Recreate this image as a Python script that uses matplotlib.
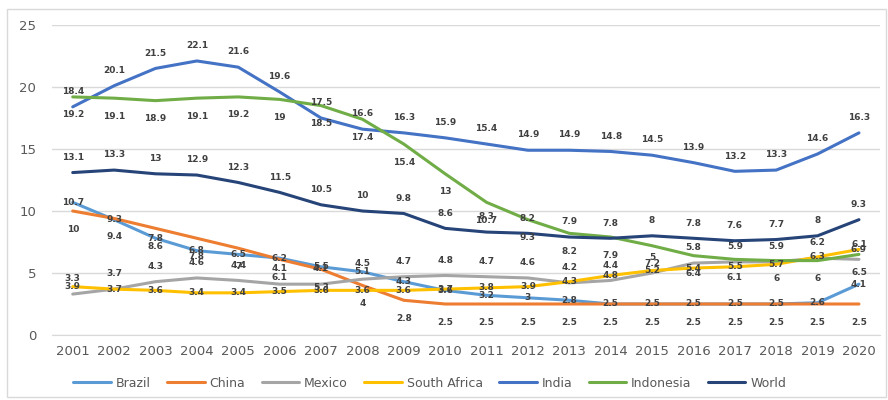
import matplotlib
matplotlib.use("Agg")
import matplotlib.pyplot as plt
from matplotlib.patches import Rectangle

years = [str(y) for y in range(2001, 2021)]

brazil = [10.7, 9.3, 7.8, 6.8, 6.5, 6.2, 5.5, 5.1, 4.3, 3.6, 3.2, 3.0, 2.8, 2.5, 2.5, 2.5, 2.5, 2.5, 2.6, 4.1]
china = [10, 9.4, 8.6, 7.8, 7.0, 6.1, 5.3, 4.0, 2.8, 2.5, 2.5, 2.5, 2.5, 2.5, 2.5, 2.5, 2.5, 2.5, 2.5, 2.5]
mexico = [3.3, 3.7, 4.3, 4.6, 4.4, 4.1, 4.1, 4.5, 4.7, 4.8, 4.7, 4.6, 4.2, 4.4, 5.0, 5.8, 5.9, 5.9, 6.2, 6.1]
south_africa = [3.9, 3.7, 3.6, 3.4, 3.4, 3.5, 3.6, 3.6, 3.6, 3.7, 3.8, 3.9, 4.3, 4.8, 5.2, 5.4, 5.5, 5.7, 6.3, 6.9]
india = [18.4, 20.1, 21.5, 22.1, 21.6, 19.6, 17.5, 16.6, 16.3, 15.9, 15.4, 14.9, 14.9, 14.8, 14.5, 13.9, 13.2, 13.3, 14.6, 16.3]
indonesia = [19.2, 19.1, 18.9, 19.1, 19.2, 19.0, 18.5, 17.4, 15.4, 13.0, 10.7, 9.3, 8.2, 7.9, 7.2, 6.4, 6.1, 6.0, 6.0, 6.5]
world = [13.1, 13.3, 13.0, 12.9, 12.3, 11.5, 10.5, 10.0, 9.8, 8.6, 8.3, 8.2, 7.9, 7.8, 8.0, 7.8, 7.6, 7.7, 8.0, 9.3]

series_names = ["Brazil", "China", "Mexico", "South Africa", "India", "Indonesia", "World"]
series_values = [brazil, china, mexico, south_africa, india, indonesia, world]
colors = ["#5B9BD5", "#ED7D31", "#A5A5A5", "#FFC000", "#4472C4", "#70AD47", "#264478"]
label_offsets = [0, -13, 11, 0, 11, -13, 11]

fig = plt.figure(figsize=(8.88, 4.0), dpi=100)
ax = fig.add_axes([0.0586, 0.1625, 0.932, 0.775])

x = list(range(len(years)))
for name, vals, c, off in zip(series_names, series_values, colors, label_offsets):
    ax.plot(x, vals, color=c, lw=2.2, label=name, solid_capstyle="round")
    for xi, v in zip(x, vals):
        ax.annotate(f"{v:g}", (xi, v), xytext=(0, off), textcoords="offset points",
                    ha="center", va="center", fontsize=6.5, color="#404040",
                    fontweight="bold")

ax.set_xlim(-0.5, len(years) - 0.5)
ax.set_ylim(0, 25)
ax.set_yticks([0, 5, 10, 15, 20, 25])
ax.set_xticks(x)
ax.set_xticklabels(years)
ax.grid(axis="y", color="#D9D9D9", lw=1)
ax.set_axisbelow(True)
for s in ["top", "right", "left"]:
    ax.spines[s].set_visible(False)
ax.spines["bottom"].set_color("#D9D9D9")
ax.tick_params(axis="both", length=0, colors="#595959", labelsize=9.5)
ax.tick_params(axis="y", pad=11.5)
ax.tick_params(axis="x", pad=7)

leg = ax.legend(loc="center", bbox_to_anchor=(0.4565, -0.155), ncol=7, frameon=False,
                fontsize=9, handlelength=3.0, columnspacing=1.3, handletextpad=0.4)
for t in leg.get_texts():
    t.set_color("#595959")

fig.patches.append(Rectangle((0.008, 0.008), 0.99, 0.97, transform=fig.transFigure,
                             fill=False, edgecolor="#D9D9D9", lw=1))

fig.savefig("out.png", dpi=100)
